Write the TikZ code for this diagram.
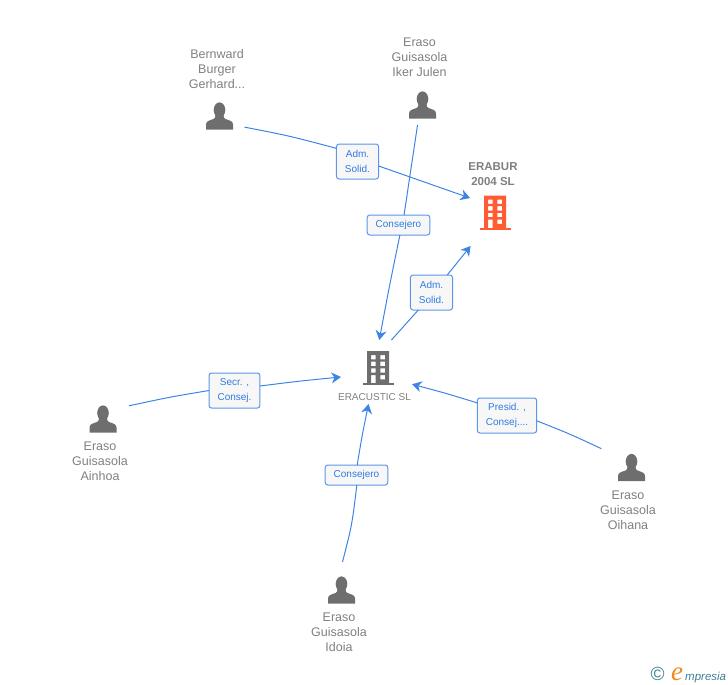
\documentclass[tikz,border=0pt]{standalone}
\usepackage{fontspec}
\usepackage{xcolor}
\setmainfont{Liberation Sans}
\newfontfamily\logofont{Liberation Serif}
\usetikzlibrary{arrows.meta}

\definecolor{linkblue}{HTML}{3F84E5}
\definecolor{tagtext}{HTML}{2F7BE0}
\definecolor{greytext}{HTML}{808080}
\definecolor{icongrey}{HTML}{6E6E6E}
\definecolor{iconred}{HTML}{FF5C33}
\definecolor{logoblue}{HTML}{3F7F93}
\definecolor{logoorange}{HTML}{F08A1D}

\tikzset{
    link/.style={draw=linkblue, line width=1pt},
    linkarrow/.style={link, -{Stealth[length=9.5pt,width=11pt,inset=3pt]}},
    tag/.style={draw=linkblue!85, fill=white!97!black, rounded corners=2.5pt, line width=1pt, text=tagtext, align=center, inner xsep=8.5pt, inner ysep=0pt, outer sep=0pt, minimum height=#1, font=\fontsize{10}{15}\selectfont},
    tag/.default=20pt,
    name text/.style={text=greytext, align=center, inner sep=0pt, font=\fontsize{12.5}{15}\selectfont},
    person spot/.style={circle, minimum size=#1, inner sep=0pt, outer sep=0pt},
    company spot/.style={rectangle, minimum width=#1, inner sep=0pt, outer sep=0pt},
    person icon/.pic={
        \fill[icongrey] (0,-6) ellipse (5.8 and 7.6);
        \fill[icongrey] (-13.5,13.5) -- (-13.5,8.5) .. controls (-13.5,5) and (-10,4.5) .. (-6,3) .. controls (-4.5,2.3) and (-4,1) .. (-4,-1) -- (4,-1) .. controls (4,1) and (4.5,2.3) .. (6,3) .. controls (10,4.5) and (13.5,5) .. (13.5,8.5) -- (13.5,13.5) -- cycle;
    },
    building icon/.pic={
        \fill[#1, even odd rule] (-11,-17) rectangle (11,15.5)
            (-7,-13) rectangle (-2.4,-8.7) (2.3,-13) rectangle (7,-8.7)
            (-7,-6.3) rectangle (-2.4,-2) (2.3,-6.3) rectangle (7,-2)
            (-7,0.3) rectangle (-2.4,4.7) (2.3,0.3) rectangle (7,4.7)
            (-7,7) rectangle (-2.4,15.5) (2.3,7) rectangle (7,11.3);
        \fill[#1] (-15.5,15.3) rectangle (16,17);
    }
}

\begin{document}
\begin{tikzpicture}[x=1pt, y=-1pt]

    \useasboundingbox (0,0) rectangle (728,685);

    % People
    \pic at (219.5,116) {person icon};
    \pic at (422.5,105) {person icon};
    \pic at (103,419) {person icon};
    \pic at (631.5,467.5) {person icon};
    \pic at (341.5,590) {person icon};

    \node[person spot=54.6pt] (burger) at (219.5,116) {};
    \node[person spot=41pt] (iker) at (422.5,105) {};
    \node[person spot=58pt] (ainhoa) at (103,419) {};
    \node[person spot=71pt] (oihana) at (631.5,467.5) {};
    \node[person spot=56pt] (idoia) at (341.5,590) {};

    \node[name text] (burgername) at (217,69) {Bernward\\Burger\\Gerhard...};
    \node[name text] (ikername) at (419.5,57) {Eraso\\Guisasola\\Iker Julen};
    \node[name text] (ainhoaname) at (100,461) {Eraso\\Guisasola\\Ainhoa};
    \node[name text] (oihananame) at (628,510) {Eraso\\Guisasola\\Oihana};
    \node[name text] (idoianame) at (339,632) {Eraso\\Guisasola\\Idoia};

    % Companies
    \pic at (495,212.5) {building icon=iconred};
    \pic at (378,368) {building icon=icongrey};

    \node[company spot=50pt, minimum height=88pt] (erabur) at (495,202) {};
    \node[company spot=71pt, minimum height=64pt] (eracustic) at (376.5,372) {};

    \node[name text, font=\fontsize{11.5}{15}\selectfont] (eraburname) at (493,174.5) {\textbf{ERABUR}\\\textbf{2004 SL}};
    \node[name text, font=\fontsize{10}{12}\selectfont] (eracusticname) at (374.5,397) {ERACUSTIC SL};

    % Role boxes
    \node[tag=35pt] (admone) at (357.5,161.5) {Adm.\\Solid.};
    \node[tag] (consone) at (398.5,225) {Consejero};
    \node[tag=35pt] (admtwo) at (431.5,292.5) {Adm.\\Solid.};
    \node[tag=35pt] (secr) at (234.5,390.5) {Secr. ,\\Consej.};
    \node[tag=35pt] (presid) at (507,415.5) {Presid. ,\\Consej....};
    \node[tag] (constwo) at (356.5,475) {Consejero};

    % Connectors
    \draw[link] (burger.-24) .. controls (290,136) .. (admone.148);
    \draw[linkarrow] (admone.-12) -- (erabur.171);

    \draw[link] (iker.-104) .. controls (411,170) .. (consone.61);
    \draw[linkarrow] (consone.-82) .. controls (389,288) .. (eracustic.85);

    \draw[link] (eracustic.65) -- (admtwo.-127);
    \draw[linkarrow] (admtwo.48) -- (erabur.241);

    \draw[link] (ainhoa.27) .. controls (170,397) .. (secr.180);
    \draw[linkarrow] (secr.10) .. controls (300,381) .. (eracustic.188);

    \draw[link] (oihana.148) .. controls (570,434) .. (presid.-10);
    \draw[linkarrow] (presid.157) .. controls (445,393) .. (eracustic.-19);

    \draw[link] (idoia.88) .. controls (352,525) .. (constwo.-88);
    \draw[linkarrow] (constwo.86) .. controls (362,436) .. (eracustic.-104);

    % Logo
    \node[text=logoblue, inner sep=0pt, font=\fontsize{19}{19}\selectfont] (logomark) at (657.5,674) {©};
    \node[anchor=base west, inner sep=0pt, text=logoorange, font=\fontsize{27}{27}\selectfont\logofont\itshape] (logoe) at (671,680) {e};
    \node[anchor=base west, inner sep=0pt, text=logoblue, font=\fontsize{11.5}{12}\selectfont\itshape] (logoname) at (685,680) {mpresia};

\end{tikzpicture}
\end{document}
